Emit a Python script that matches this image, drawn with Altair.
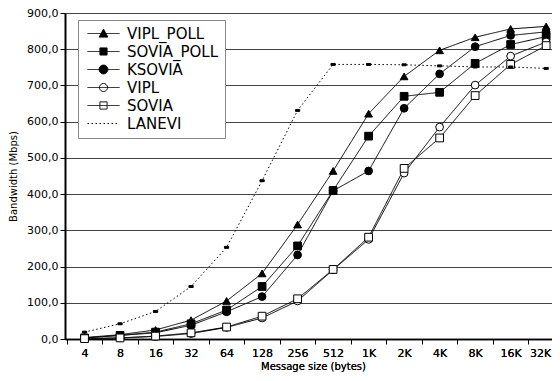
import altair as alt
import pandas as pd

sizes = ["4", "8", "16", "32", "64", "128", "256", "512", "1K", "2K", "4K", "8K", "16K", "32K"]
series_names = ["VIPL_POLL", "SOVIA_POLL", "KSOVIA", "VIPL", "SOVIA", "LANEVI"]

vipl_poll = [4, 12, 25, 52, 105, 181, 316, 464, 622, 725, 797, 833, 856, 863]
sovia_poll = [3, 10, 19, 42, 80, 145, 257, 410, 560, 670, 681, 761, 813, 835]
ksovia = [3, 10, 17, 38, 75, 117, 232, 409, 464, 637, 732, 807, 838, 848]
vipl = [1, 3, 7, 15, 32, 58, 105, 191, 275, 458, 585, 701, 781, 820]
sovia = [1, 3, 8, 17, 33, 63, 111, 192, 281, 471, 555, 672, 758, 810]
lanevi = [19, 42, 76, 145, 253, 437, 631, 758, 758, 757, 754, 751, 751, 747]

values = [vipl_poll, sovia_poll, ksovia, vipl, sovia, lanevi]
rows = []
for name, vals in zip(series_names, values):
    for i, (s, v) in enumerate(zip(sizes, vals)):
        rows.append({"idx": i, "size": s, "bw": v, "series": name})
df = pd.DataFrame(rows)

FONT = "DejaVu Sans"
n = len(sizes)
label_array = "[" + ",".join("'" + s + "'" for s in sizes) + "]"

# plot area is clipped at the right edge of the picture, like the reference
x_scale = alt.Scale(domain=[-0.55, n - 1 + 0.39], nice=False, zero=False, range=[0, 495])

x_main = alt.X(
    "idx:Q", scale=x_scale,
    axis=alt.Axis(title="Message size (bytes)", orient="bottom",
                  values=list(range(n)), labelExpr=label_array + "[datum.value]",
                  labelOffset={"condition": {"test": f"datum.value == {n - 1}", "value": -6}, "value": 0},
                  ticks=False, grid=False, domainColor="black", domainWidth=1.5,
                  labelFontSize=11, labelPadding=8, labelFlush=False,
                  titleFontSize=10, titleFontWeight="normal", titlePadding=3,
                  titleX=248, labelColor="black", titleColor="black"),
)
x_ticks = alt.X(
    "idx:Q", scale=x_scale,
    axis=alt.Axis(title=None, orient="bottom", values=[i - 0.5 for i in range(n)],
                  labels=False, domain=False, grid=False, ticks=True,
                  tickColor="black", tickSize=5, tickWidth=1),
)
y_enc = alt.Y(
    "bw:Q",
    scale=alt.Scale(domain=[0, 900], nice=False),
    axis=alt.Axis(title="Bandwidth (Mbps)", values=list(range(0, 901, 100)),
                  labelExpr="replace(format(datum.value, '.1f'), '.', ',')",
                  grid=True, gridColor="#444", gridWidth=1,
                  domainColor="black", domainWidth=2, tickColor="black", tickSize=5,
                  labelFontSize=11, labelPadding=2, titleFontSize=10,
                  titleFontWeight="normal", titlePadding=8,
                  labelColor="black", titleColor="black"),
)

dash_range = [[1, 0], [1, 0], [1, 0], [1, 0], [1, 0], [1.5, 2.5]]

lines = alt.Chart(df).mark_line(color="black").encode(
    x=x_main, y=y_enc,
    strokeDash=alt.StrokeDash("series:N", legend=None,
                              scale=alt.Scale(domain=series_names, range=dash_range)),
    strokeWidth=alt.StrokeWidth("series:N", legend=None,
                                scale=alt.Scale(domain=series_names, range=[1, 1, 2, 1, 1, 1])),
)

marker_shapes = ["triangle-up", "square", "circle", "circle", "square", "M-0.55,-0.25H0.55V0.25H-0.55Z"]
marker_fills = ["black", "black", "black", "white", "white", "black"]

points = alt.Chart(df).mark_point(filled=True, stroke="black", strokeWidth=1, size=60, opacity=1).encode(
    x=x_ticks, y=y_enc,
    shape=alt.Shape("series:N", legend=None, scale=alt.Scale(domain=series_names, range=marker_shapes)),
    fill=alt.Fill("series:N", legend=None, scale=alt.Scale(domain=series_names, range=marker_fills)),
)

legend_paths = [
    "M-4,0H4M0,-1.1L1.1,0.9L-1.1,0.9Z",
    "M-4,0H4M-0.9,-0.9H0.9V0.9H-0.9Z",
    "M-4,0H4M1.1,0A1.1,1.1,0,1,1,-1.1,0A1.1,1.1,0,1,1,1.1,0Z",
    "M-4,0H4M1,0A1,1,0,1,1,-1,0A1,1,0,1,1,1,0Z",
    "M-4,0H4M-0.9,-0.9H0.9V0.9H-0.9Z",
    "M-4,0H4",
]

leg = alt.Legend(title=None, orient="none", legendX=13, legendY=7,
                 fillColor="white", strokeColor="#888", padding=6,
                 labelFontSize=15, labelColor="black", labelFont=FONT,
                 symbolSize=64, symbolOffset=12, labelOffset=16,
                 symbolStrokeWidth=1, symbolOpacity=1, rowPadding=2)

legend_layer = alt.Chart(df).mark_point(filled=False, strokeWidth=1, opacity=0).encode(
    x=x_main, y=y_enc,
    shape=alt.Shape("series:N", legend=leg, scale=alt.Scale(domain=series_names, range=legend_paths)),
    fill=alt.Fill("series:N", legend=leg, scale=alt.Scale(domain=series_names, range=marker_fills)),
    stroke=alt.Stroke("series:N", legend=leg, scale=alt.Scale(domain=series_names, range=["black"] * 6)),
    strokeDash=alt.StrokeDash("series:N", legend=leg,
                              scale=alt.Scale(domain=series_names, range=dash_range)),
)

chart = alt.layer(lines, points, legend_layer).resolve_scale(
    shape="independent", fill="independent", stroke="independent",
    strokeDash="independent", strokeWidth="independent"
).resolve_axis(x="independent").properties(
    width=487, height=326,
    autosize=alt.AutoSizeParams(type="none"),
    padding={"left": 57, "top": 5, "right": 0, "bottom": 33},
).configure(font=FONT).configure_view(stroke=None)

chart.save("out.html", embed_options={"renderer": "svg", "actions": False})
